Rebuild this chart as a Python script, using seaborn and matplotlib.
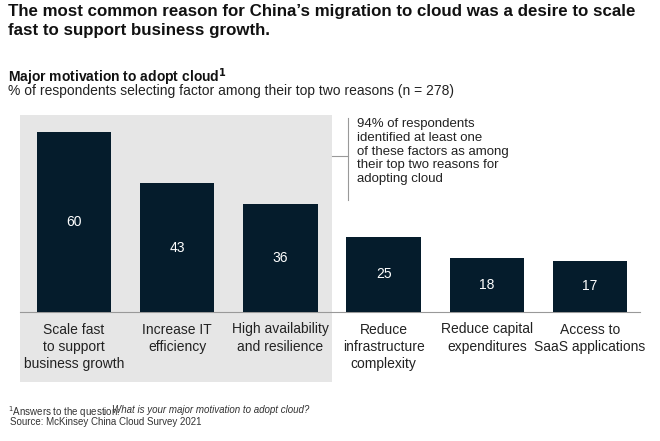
import matplotlib
matplotlib.use("Agg")
import matplotlib.pyplot as plt
import seaborn as sns
import pandas as pd
from matplotlib.patches import Rectangle
from matplotlib.lines import Line2D

categories = ["Scale fast\nto support\nbusiness growth", "Increase IT\nefficiency",
              "High availability\nand resilience", "Reduce\ninfrastructure\ncomplexity",
              "Reduce capital\nexpenditures", "Access to\nSaaS applications"]
values = [60, 43, 36, 25, 18, 17]

plt.rcParams["font.family"] = "Liberation Sans"
W, H = 660, 441
fig = plt.figure(figsize=(6.6, 4.41), dpi=100)
fig.patch.set_facecolor("white")

def fx(x): return x / W
def fy(y): return 1 - y / H

bg = fig.add_axes([0, 0, 1, 1], zorder=0)
bg.set_xlim(0, W); bg.set_ylim(H, 0); bg.axis("off")
bg.add_patch(Rectangle((20, 115), 312, 267, color="#e6e6e6", lw=0))
bg.plot([20, 640], [312, 312], color="#999999", lw=0.8)
bg.plot([348, 348], [118, 200], color="#999999", lw=0.8)
bg.plot([332, 348], [156, 156], color="#999999", lw=0.8)

ax = fig.add_axes([fx(22.4), fy(312), fx(641.6) - fx(22.4), fy(117) - fy(312)], zorder=1)
ax.patch.set_alpha(0)
df = pd.DataFrame({"cat": categories, "val": values})
sns.barplot(data=df, x="cat", y="val", color="#051c2c", width=0.72, saturation=1, ax=ax)
ax.set_ylim(0, 65)
ax.set_xlim(-0.5, 5.5)
ax.axis("off")
for i, v in enumerate(values):
    ax.text(i, v / 2, str(v), ha="center", va="center", color="white", fontsize=10)
    ax.text(i, -3.5, categories[i], ha="center", va="top", color="#222222", fontsize=10,
            linespacing=1.3)

fig.text(fx(357), fy(118), "94% of respondents\nidentified at least one\nof these factors as among\ntheir top two reasons for\nadopting cloud",
         ha="left", va="top", fontsize=9.5, color="#222222", linespacing=1.2)

fig.text(fx(8), fy(4), "The most common reason for China’s migration to cloud was a desire to scale\nfast to support business growth.",
         ha="left", va="top", fontsize=12.2, fontweight="bold", color="#111111", linespacing=1.3)
fig.text(fx(8), fy(66), "Major motivation to adopt cloud$^\\mathbf{1}$", ha="left", va="top",
         fontsize=10, fontweight="bold", color="#111111")
fig.text(fx(8), fy(84), "% of respondents selecting factor among their top two reasons (n = 278)",
         ha="left", va="top", fontsize=10, color="#222222")
fig.text(fx(8), fy(404), "$^1$Answers to the question:", ha="left", va="top", fontsize=7, color="#333333")
fig.text(fx(112), fy(405), "What is your major motivation to adopt cloud?", ha="left", va="top",
         fontsize=7, style="italic", color="#333333")
fig.text(fx(10), fy(417), "Source: McKinsey China Cloud Survey 2021", ha="left", va="top",
         fontsize=7, color="#333333")

fig.savefig("out.png", dpi=100)
